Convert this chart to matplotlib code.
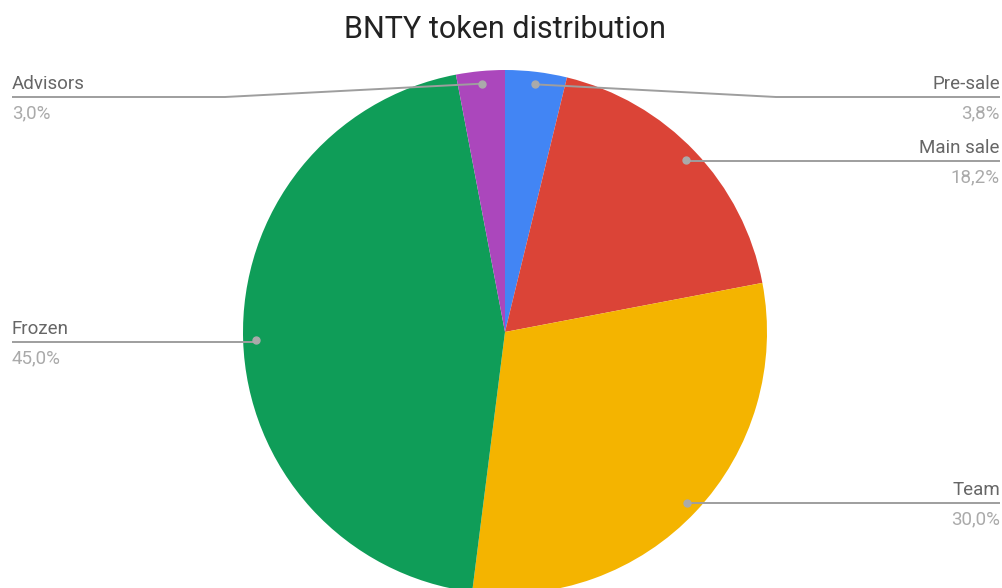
import numpy as np
import matplotlib.pyplot as plt

labels = ["Pre-sale", "Main sale", "Team", "Frozen", "Advisors"]
shares = [3.8, 18.2, 30.0, 45.0, 3.0]
colors = ["#4285F4", "#DB4437", "#F4B400", "#0F9D58", "#AB47BC"]

W, H = 1003, 588
cx, cy, R = 505, 256, 262

plt.rcParams['font.family'] = ['Roboto', 'DejaVu Sans']

fig = plt.figure(figsize=(W / 100, H / 100), dpi=100)
ax = fig.add_axes([0, 0, 1, 1])

wedges, _ = ax.pie(shares, colors=colors, startangle=90, counterclock=False,
                   center=(cx, cy), radius=R, wedgeprops=dict(linewidth=0))
ax.set_xlim(0, W)
ax.set_ylim(0, H)
ax.set_aspect('equal')
ax.axis('off')

line_col = "#9e9e9e"
name_col = "#666666"
pct_col = "#aaaaaa"

# where each label sits: side, line height, elbow x
label_pos = {
    "Pre-sale": ("right", 491, 776),
    "Main sale": ("right", 427, None),
    "Team": ("right", 85, None),
    "Frozen": ("left", 246, None),
    "Advisors": ("left", 491, 225),
}

for w, name, val in zip(wedges, labels, shares):
    ang = np.deg2rad((w.theta1 + w.theta2) / 2)
    dx = cx + 0.952 * R * np.cos(ang)
    dy = cy + 0.952 * R * np.sin(ang)
    side, ly, elbow = label_pos[name]
    end = 1000 if side == "right" else 12
    if elbow is None:
        xs, ys = [dx, end], [ly, ly]
    else:
        xs, ys = [dx, elbow, end], [dy, ly, ly]
    ax.plot(xs, ys, color=line_col, lw=1.4, solid_capstyle='butt', zorder=3)
    ax.plot(dx, dy, 'o', color="#aaaaaa", ms=5, zorder=4)
    ha = "right" if side == "right" else "left"
    ax.text(end, ly + 4, name, ha=ha, va='bottom', fontsize=13.5, color=name_col)
    ax.text(end, ly - 7, f"{val:.1f}%".replace(".", ","), ha=ha, va='top',
            fontsize=13.5, color=pct_col)

ax.text(505, 558, "BNTY token distribution", ha='center', va='center',
        fontsize=22, color="#222222")

fig.savefig("out.png", dpi=100)
